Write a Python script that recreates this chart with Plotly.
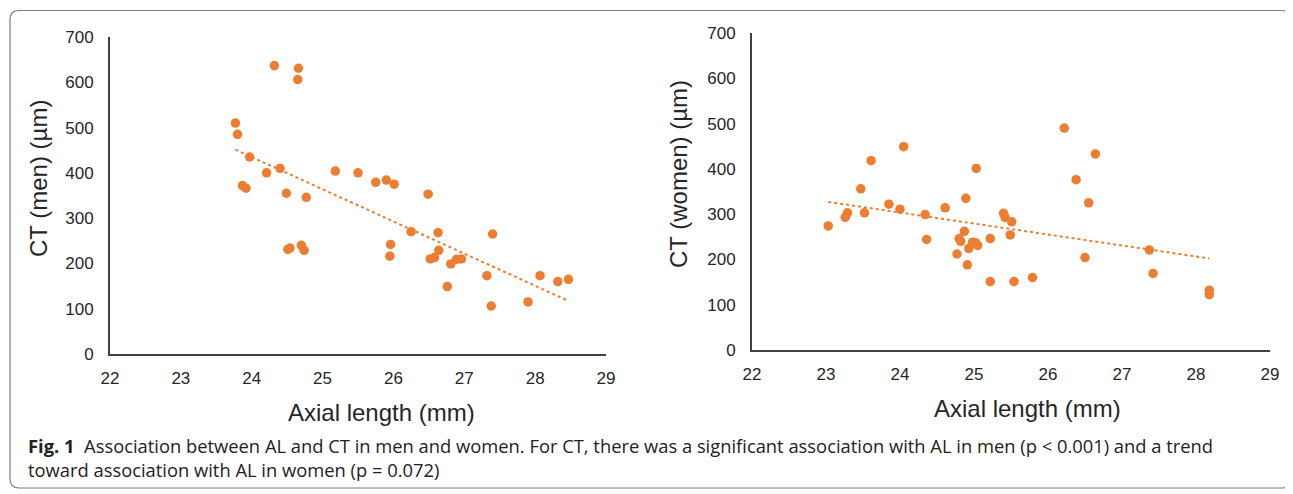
import re
import numpy as np
import plotly.graph_objects as go

# The page places the figure 8 px from the top-left corner of the window,
# so the figure is sized to fill the rest of the 1293x494 window.
OFF = 8
W, H = 1293 - OFF, 494 - OFF

# ---- data ----
men_al = [23.77, 23.80, 23.97, 23.87, 23.92, 24.21, 24.32, 24.40, 24.49, 24.51,
          24.54, 24.65, 24.66, 24.77, 24.70, 24.74, 25.18, 25.50, 25.75, 25.90,
          26.01, 25.96, 25.95, 26.25, 26.49, 26.63, 26.64, 26.52, 26.58, 26.76,
          26.81, 26.89, 26.96, 27.32, 27.38, 27.40, 27.90, 28.07, 28.32, 28.47]
men_ct = [510, 485, 435, 372, 366, 400, 637, 410, 355, 231,
          234, 606, 631, 346, 240, 229, 404, 400, 379, 384,
          375, 242, 216, 270, 353, 268, 229, 210, 213, 149,
          199, 209, 210, 173, 106, 265, 115, 173, 160, 165]

women_al = [23.03, 23.26, 23.29, 23.47, 23.52, 23.61, 23.85, 24.00, 24.05, 24.34,
            24.36, 24.61, 24.77, 24.80, 24.82, 24.87, 24.89, 24.91, 24.93, 24.98,
            25.02, 25.05, 25.03, 25.22, 25.22, 25.40, 25.42, 25.49, 25.51, 25.54,
            25.79, 26.22, 26.38, 26.50, 26.55, 26.64, 27.37, 27.42, 28.18, 28.18]
women_ct = [274, 293, 303, 356, 303, 418, 322, 311, 449, 299,
            244, 314, 212, 246, 240, 262, 335, 188, 224, 238,
            237, 231, 401, 246, 151, 302, 293, 254, 283, 151,
            160, 490, 376, 204, 325, 433, 221, 169, 132, 122]

x_ticks = [22, 23, 24, 25, 26, 27, 28, 29]
y_ticks = [0, 100, 200, 300, 400, 500, 600, 700]

ORANGE = "#ED7D31"
AXIS_COL = "#404040"
TXT = "#262626"

fig = go.Figure()

def add_panel(al, ct, xa, ya):
    al = np.array(al); ct = np.array(ct)
    fig.add_trace(go.Scatter(x=al, y=ct, mode="markers", xaxis=xa, yaxis=ya,
                             marker=dict(color=ORANGE, size=9.5), showlegend=False,
                             hoverinfo="x+y"))
    m, b = np.polyfit(al, ct, 1)
    xs = np.array([al.min(), al.max()])
    fig.add_trace(go.Scatter(x=xs, y=m * xs + b, mode="lines", xaxis=xa, yaxis=ya,
                             line=dict(color=ORANGE, width=2, dash="dot"),
                             showlegend=False, hoverinfo="skip"))

add_panel(men_al, men_ct, "x", "y")
add_panel(women_al, women_ct, "x2", "y2")

# window pixel -> paper fraction
def px_x(p): return (p - OFF) / W
def px_y(p): return 1 - (p - OFF) / H

tick_font = dict(family="Liberation Sans, Arial", size=17, color=TXT)
xcommon = dict(showgrid=False, zeroline=False, showline=True, linecolor=AXIS_COL,
               linewidth=1.8, ticks="", tickfont=tick_font, automargin=False,
               fixedrange=True, ticklabelstandoff=8)
ycommon = dict(xcommon)
ycommon["ticklabelstandoff"] = 11

fig.update_layout(
    template="none",
    width=W, height=H, margin=dict(l=0, r=0, t=0, b=0, pad=0),
    paper_bgcolor="white", plot_bgcolor="white",
    xaxis=dict(domain=[px_x(110), px_x(606)], range=[22, 29], tickvals=x_ticks, anchor="y", **xcommon),
    yaxis=dict(domain=[px_y(354), px_y(37)], range=[0, 700], tickvals=y_ticks, anchor="x", **ycommon),
    xaxis2=dict(domain=[px_x(752), px_x(1270)], range=[22, 29], tickvals=x_ticks, anchor="y2", **xcommon),
    yaxis2=dict(domain=[px_y(350), px_y(33)], range=[0, 700], tickvals=y_ticks, anchor="x2", **ycommon),
)

title_font = dict(family="Liberation Sans, Arial", size=24, color=TXT)
ann = []
ann.append(dict(text="CT (men) (µm)", x=px_x(38), y=px_y(179), xref="paper", yref="paper",
                textangle=-90, showarrow=False, font=title_font, xanchor="center", yanchor="middle"))
ann.append(dict(text="CT (women) (µm)", x=px_x(678), y=px_y(174), xref="paper", yref="paper",
                textangle=-90, showarrow=False, font=title_font, xanchor="center", yanchor="middle"))
ann.append(dict(text="Axial length (mm)", x=px_x(381), y=px_y(412), xref="paper", yref="paper",
                showarrow=False, font=title_font, xanchor="center", yanchor="middle"))
ann.append(dict(text="Axial length (mm)", x=px_x(1028), y=px_y(408), xref="paper", yref="paper",
                showarrow=False, font=title_font, xanchor="center", yanchor="middle"))

cap_font = dict(family="Open Sans", size=18.35, color="#222222")
caption = ("<b>Fig. 1</b>  Association between AL and CT in men and women. For CT, there was a "
           "significant association with AL in men (p < 0.001) and a trend<br>"
           "toward association with AL in women (p = 0.072)")
ann.append(dict(text=caption, x=px_x(26), y=px_y(457), xref="paper", yref="paper", showarrow=False,
                font=cap_font, xanchor="left", yanchor="middle", align="left"))
fig.update_layout(annotations=ann)

# rounded frame around the figure
x0, y0, x1, y1, r = 10, 10.5, 1291, 488, 9
path = (f"M {x0+r},{y0} L {x1-r},{y0} Q {x1},{y0} {x1},{y0+r} L {x1},{y1-r} Q {x1},{y1} {x1-r},{y1} "
        f"L {x0+r},{y1} Q {x0},{y1} {x0},{y1-r} L {x0},{y0+r} Q {x0},{y0} {x0+r},{y0} Z")
def conv(m):
    a, b = float(m.group(1)), float(m.group(2))
    return f"{px_x(a):.5f},{px_y(b):.5f}"
path_paper = re.sub(r"([\d.]+),([\d.]+)", conv, path)
fig.add_shape(type="path", path=path_paper, xref="paper", yref="paper",
              line=dict(color="#7f7f7f", width=1.2), fillcolor="rgba(0,0,0,0)", layer="below")

fig.write_html("out.html")
